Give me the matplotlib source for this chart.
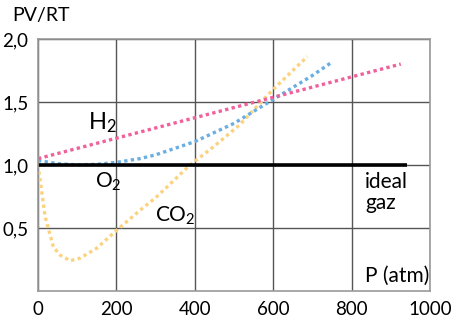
import matplotlib.pyplot as plt

plt.rcParams['font.family'] = ['Lato', 'DejaVu Sans']
plt.rcParams['mathtext.fontset'] = 'custom'
plt.rcParams['mathtext.rm'] = 'Lato'
plt.rcParams['mathtext.it'] = 'Lato:italic'

# pressure (atm) and PV/RT readings
h2_p = [0, 925]
h2_z = [1.05, 1.80]

o2_p = [0, 50, 100, 150, 200, 260, 300, 400, 500, 600, 700, 747]
o2_z = [1.035, 1.01, 1.0, 1.005, 1.02, 1.05, 1.08, 1.185, 1.33, 1.52, 1.71, 1.81]

co2_p = [0, 9, 18, 26, 39, 56, 82, 107, 150, 200, 260, 300, 388, 450,
         515, 560, 600, 650, 687]
co2_z = [1.0, 0.80, 0.59, 0.50, 0.35, 0.285, 0.24, 0.26, 0.34, 0.48, 0.64,
         0.74, 1.0, 1.15, 1.32, 1.47, 1.60, 1.75, 1.86]

ideal_p = [0, 940]
ideal_z = [1.0, 1.0]

x_ticks = [0, 200, 400, 600, 800, 1000]
y_ticks = [0.5, 1.0, 1.5, 2.0]
y_labels = ["0,5", "1,0", "1,5", "2,0"]

fig = plt.figure(figsize=(4.57, 3.24), dpi=100)
ax = fig.add_axes([0.0832, 0.102, 0.858, 0.778])

dots = dict(lw=2.4, linestyle=(0, (1, 1)), dash_capstyle='butt')
ax.plot(co2_p, co2_z, color="#fdd27f", **dots)
ax.plot(o2_p, o2_z, color="#6aaee2", **dots)
ax.plot(h2_p, h2_z, color="#f0609a", **dots)
ax.plot(ideal_p, ideal_z, color="black", lw=2.6, solid_capstyle='butt')

ax.set_xlim(0, 1000)
ax.set_ylim(0, 2.0)
ax.set_xticks(x_ticks)
ax.set_xticklabels([str(t) for t in x_ticks])
ax.set_yticks(y_ticks)
ax.set_yticklabels(y_labels)
ax.tick_params(length=0, labelsize=13.5, pad=7)
ax.grid(True, color="#555555", lw=1)
for s in ax.spines.values():
    s.set_color("#999999")
    s.set_linewidth(1.2)

ax.text(128, 1.28, "H$_2$", fontsize=17)
ax.text(145, 0.82, "O$_2$", fontsize=15)
ax.text(298, 0.55, "CO$_2$", fontsize=15)
ax.text(834, 0.94, "ideal\ngaz", fontsize=15, va='top', linespacing=1.05)
ax.text(834, 0.07, "P (atm)", fontsize=15)
fig.text(0.026, 0.935, "PV/RT", fontsize=14)

fig.savefig("out.png", dpi=100)
